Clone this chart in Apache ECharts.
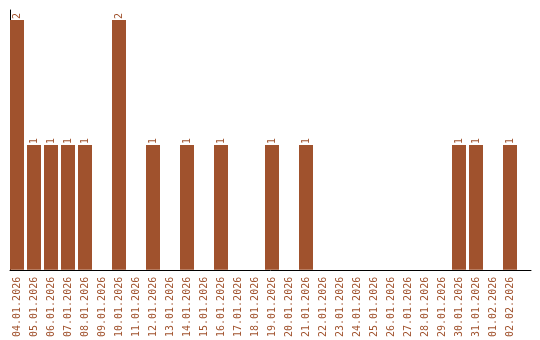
<!DOCTYPE html>
<html><head><meta charset="utf-8">
<script src="https://cdn.jsdelivr.net/npm/echarts@6/dist/echarts.min.js"></script>
<style>html,body{margin:0;padding:0;background:#fff}#c{width:540px;height:340px}</style>
</head><body><div id="c"></div>
<script>
var categories = ['04.01.2026','05.01.2026','06.01.2026','07.01.2026','08.01.2026','09.01.2026','10.01.2026','11.01.2026','12.01.2026','13.01.2026','14.01.2026','15.01.2026','16.01.2026','17.01.2026','18.01.2026','19.01.2026','20.01.2026','21.01.2026','22.01.2026','23.01.2026','24.01.2026','25.01.2026','26.01.2026','27.01.2026','28.01.2026','29.01.2026','30.01.2026','31.01.2026','01.02.2026','02.02.2026'];
var counts = [2,1,1,1,1,0,2,0,1,0,1,0,1,0,0,1,0,1,0,0,0,0,0,0,0,0,1,1,0,1];
var color = '#a0522d';
var font = 'DejaVu Sans Mono';
var chart = echarts.init(document.getElementById('c'), null, {renderer:'canvas'});
chart.setOption({
  animation:false,
  grid:[
    {left:8.5, width:510, top:20, bottom:70},
    {left:10, right:9, top:10, bottom:70}
  ],
  xAxis:[
    {type:'category', gridIndex:0, data:categories, axisLine:{show:false}, axisTick:{show:false},
     axisLabel:{rotate:90, interval:0, color:color, fontFamily:font, fontSize:10, margin:7}},
    {type:'value', gridIndex:1, min:0, max:1, axisLine:{show:true, onZero:false, lineStyle:{color:'#000', width:1}},
     axisTick:{show:false}, axisLabel:{show:false}, splitLine:{show:false}}
  ],
  yAxis:[
    {type:'value', gridIndex:0, min:0, max:2, show:false},
    {type:'value', gridIndex:1, min:0, max:1, axisLine:{show:true, onZero:false, lineStyle:{color:'#000', width:1}},
     axisTick:{show:false}, axisLabel:{show:false}, splitLine:{show:false}}
  ],
  series:[{
    type:'bar', xAxisIndex:0, yAxisIndex:0, data:counts, barWidth:14,
    itemStyle:{color:color},
    label:{show:true, position:'top', rotate:90, align:'left', verticalAlign:'middle', distance:1,
      color:color, fontFamily:font, fontSize:10,
      formatter:function(p){return p.value>0?p.value:'';}}
  }]
});
</script></body></html>
